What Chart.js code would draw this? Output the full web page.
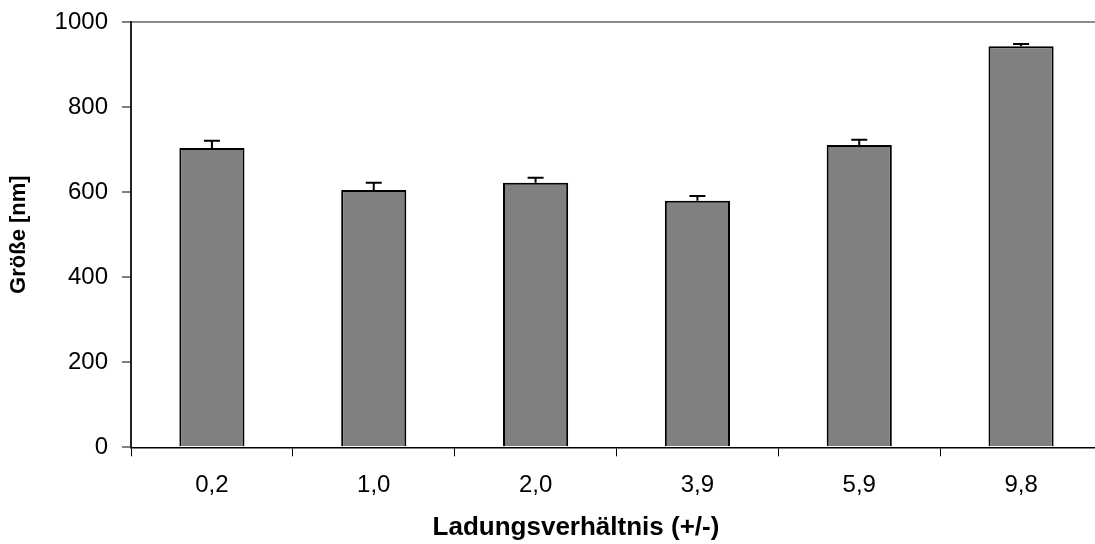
<!DOCTYPE html>
<html>
<head>
<meta charset="utf-8">
<script src="https://cdn.jsdelivr.net/npm/chart.js@4/dist/chart.umd.min.js"></script>
<style>
  html, body { margin: 0; padding: 0; background: #fff; overflow: hidden; }
  #wrap { width: 1110px; height: 544px; }
</style>
</head>
<body>
<div id="wrap"><canvas id="c" width="1110" height="544"></canvas></div>
<script>
// Partikelgröße in Abhängigkeit vom Ladungsverhältnis
const categories = ['0,2', '1,0', '2,0', '3,9', '5,9', '9,8'];
const sizes = [704, 605, 622, 580, 711, 943];
const errors = [17, 17, 12, 11, 12, 5];
const yTicks = [0, 200, 400, 600, 800, 1000];

const FONT = "'Liberation Sans', Arial, sans-serif";

// Fehlerbalken (nur nach oben) mit Querstrich
const errorBars = {
  id: 'errorBars',
  afterDatasetsDraw(chart) {
    const ctx = chart.ctx;
    const meta = chart.getDatasetMeta(0);
    const y = chart.scales.y;
    ctx.save();
    ctx.strokeStyle = '#000';
    ctx.lineWidth = 2;
    meta.data.forEach((bar, i) => {
      const top = y.getPixelForValue(sizes[i]);
      const hi = y.getPixelForValue(sizes[i] + errors[i]);
      ctx.beginPath();
      ctx.moveTo(bar.x, top);
      ctx.lineTo(bar.x, hi);
      ctx.moveTo(bar.x - 8, hi);
      ctx.lineTo(bar.x + 8, hi);
      ctx.stroke();
    });
    ctx.restore();
  }
};

// Achsentitel
const axisTitles = {
  id: 'axisTitles',
  afterDraw(chart) {
    const ctx = chart.ctx;
    const a = chart.chartArea;
    ctx.save();
    ctx.fillStyle = '#000';
    ctx.textAlign = 'center';
    ctx.textBaseline = 'middle';
    ctx.font = 'bold 26px ' + FONT;
    ctx.fillText('Ladungsverhältnis (+/-)', a.left + 445, 528);
    ctx.font = 'bold 22px ' + FONT;
    ctx.translate(19, (a.top + a.bottom) / 2);
    ctx.rotate(-Math.PI / 2);
    ctx.fillText('Größe [nm]', 0, 0);
    ctx.restore();
  }
};

new Chart(document.getElementById('c'), {
  type: 'bar',
  data: {
    labels: categories,
    datasets: [{
      data: sizes,
      backgroundColor: '#808080',
      borderColor: '#000',
      borderWidth: 2,
      borderSkipped: 'bottom',
      barPercentage: 0.805,
      categoryPercentage: 0.5
    }]
  },
  options: {
    responsive: false,
    animation: false,
    layout: { padding: { top: 22, right: 8, left: 0, bottom: 0 } },
    plugins: { legend: { display: false }, tooltip: { enabled: false } },
    scales: {
      x: {
        offset: true,
        grid: {
          offset: true,
          drawOnChartArea: false,
          tickLength: 9,
          tickColor: '#000',
          tickWidth: 1
        },
        border: { color: '#000', width: 1.5 },
        ticks: {
          color: '#000',
          font: { family: FONT, size: 24 },
          padding: 15
        },
        afterFit(scale) { scale.height = 96.7; }
      },
      y: {
        min: 0,
        max: 1000,
        afterBuildTicks(scale) { scale.ticks = yTicks.map(v => ({ value: v })); },
        grid: {
          color: ctx => (ctx.tick && ctx.tick.value === 1000) ? '#8c8c8c' : 'rgba(0,0,0,0)',
          lineWidth: 2,
          tickLength: 9,
          tickColor: '#000',
          tickWidth: 1
        },
        border: { color: '#222', width: 2 },
        ticks: {
          color: '#000',
          font: { family: FONT, size: 24 },
          padding: 14,
          callback: v => String(v)
        },
        afterFit(scale) {
          scale.width = 131;
          scale.paddingTop = 0;
          scale.paddingBottom = 0;
        }
      }
    }
  },
  plugins: [errorBars, axisTitles]
});
</script>
</body>
</html>
